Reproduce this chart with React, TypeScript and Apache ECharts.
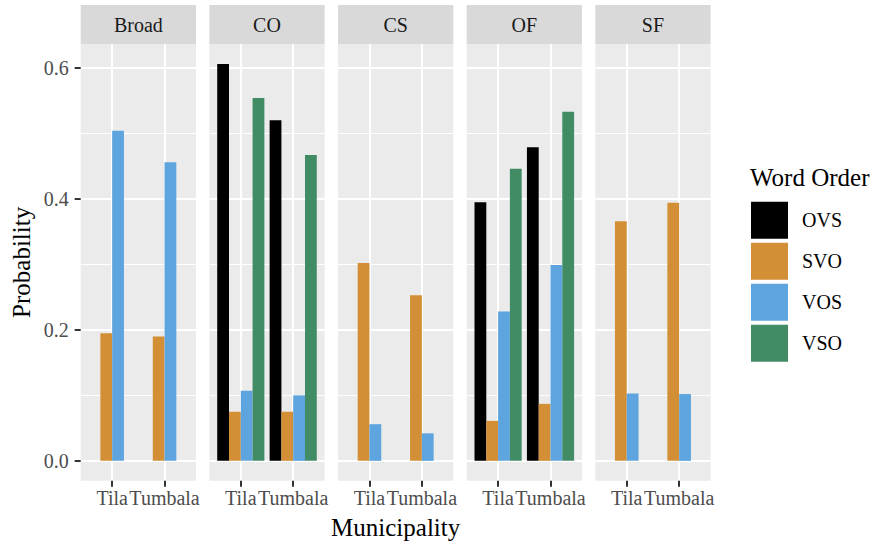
import React, { useEffect, useRef } from 'react';
import * as echarts from 'echarts';

// ---- data ----
const facets = ['Broad', 'CO', 'CS', 'OF', 'SF'];
const municipalities = ['Tila', 'Tumbala'];
const wordOrders = ['OVS', 'SVO', 'VOS', 'VSO'];
const orderColors = ['#000000', '#D38F35', '#5EA4DE', '#418B65'];
const yTickValues = [0, 0.2, 0.4, 0.6];

// per facet: [Tila, Tumbala]; null = word order absent in that facet
const ovsValues = [null, [0.606, 0.52], null, [0.395, 0.479], null];
const svoValues = [[0.195, 0.19], [0.075, 0.075], [0.302, 0.253], [0.061, 0.087], [0.366, 0.394]];
const vosValues = [[0.504, 0.456], [0.107, 0.1], [0.056, 0.042], [0.228, 0.299], [0.103, 0.102]];
const vsoValues = [null, [0.554, 0.467], null, [0.446, 0.533], null];

const seriesValues = [ovsValues, svoValues, vosValues, vsoValues];

// ---- layout ----
const FONT = 'Liberation Serif';
const firstPanelLeft = 80.7;
const panelStep = 128.65;
const panelW = 115.3;
const panelTop = 44.1;
const panelH = 436.6;
const stripTop = 4.9;
const stripH = 39.2;
const yMin = -0.0303;
const yMax = 0.6363;
const xLo = 0.4;
const xHi = 2.6;

export default function App() {
  const ref = useRef<HTMLDivElement>(null);
  useEffect(() => {
    document.body.style.margin = '0';
    const chart = echarts.init(ref.current!, null, { renderer: 'svg' });
    const grids: any[] = [];
    const xAxes: any[] = [];
    const yAxes: any[] = [];
    const series: any[] = [];
    const graphics: any[] = [];
    const unit = panelW / (xHi - xLo);
    const lineTop = panelTop + ((yMax - 0.6) / (yMax - yMin)) * panelH;
    const lineH = (0.6 / (yMax - yMin)) * panelH;
    const barWidth = (0.9 / 4) * unit;

    facets.forEach((facet, i) => {
      const L = firstPanelLeft + i * panelStep;
      // 0: background
      grids.push({ left: L, top: panelTop, width: panelW, height: panelH, show: true, backgroundColor: '#EBEBEB', borderWidth: 0 });
      xAxes.push({ type: 'value', gridIndex: 4 * i, show: false });
      yAxes.push({ type: 'value', gridIndex: 4 * i, show: false });
      // 1: horizontal grid lines + y axis
      grids.push({ left: L, top: lineTop, width: panelW, height: lineH, show: false });
      xAxes.push({ type: 'value', gridIndex: 4 * i + 1, show: false });
      yAxes.push({
        type: 'value', gridIndex: 4 * i + 1, min: 0, max: 0.6, interval: 0.2,
        axisLine: { show: false },
        axisTick: { show: i === 0, length: 6, lineStyle: { color: '#333333', width: 2 } },
        axisLabel: {
          show: i === 0, fontFamily: FONT, fontSize: 20, color: '#4D4D4D', margin: 12,
          formatter: (v: number) => (yTickValues.some((t) => Math.abs(t - v) < 1e-9) ? v.toFixed(1) : ''),
        },
        splitLine: { show: true, lineStyle: { color: '#FFFFFF', width: 2 } },
        minorTick: { show: false, splitNumber: 2 },
        minorSplitLine: { show: true, lineStyle: { color: '#FFFFFF', width: 1 } },
      });
      // 2: x axis at category positions
      grids.push({ left: L + (1 - xLo) * unit, top: panelTop, width: unit, height: panelH, show: false });
      xAxes.push({
        type: 'category', gridIndex: 4 * i + 2, data: municipalities, boundaryGap: false,
        axisLine: { show: false },
        axisTick: { show: true, length: 6, lineStyle: { color: '#333333', width: 2 } },
        axisLabel: { interval: 0, fontFamily: FONT, fontSize: 20, color: '#4D4D4D', margin: 7 },
        splitLine: { show: true, lineStyle: { color: '#FFFFFF', width: 2 } },
      });
      yAxes.push({ type: 'value', gridIndex: 4 * i + 2, show: false });
      // 3: bars
      grids.push({ left: L + (0.5 - xLo) * unit, top: panelTop, width: 2 * unit, height: panelH, show: false });
      xAxes.push({ type: 'category', gridIndex: 4 * i + 3, data: municipalities, show: false });
      yAxes.push({ type: 'value', gridIndex: 4 * i + 3, min: yMin, max: yMax, show: false });
      wordOrders.forEach((wo, k) => {
        const vals = seriesValues[k][i];
        if (!vals) return;
        series.push({
          type: 'bar', name: wo, xAxisIndex: 4 * i + 3, yAxisIndex: 4 * i + 3,
          data: vals, barWidth, barGap: '0%', itemStyle: { color: orderColors[k] },
        });
      });
      // strip
      graphics.push({
        type: 'rect', shape: { x: L, y: stripTop, width: panelW, height: stripH },
        style: { fill: '#D9D9D9' }, silent: true,
      });
      graphics.push({
        type: 'text', x: L + panelW / 2, y: stripTop + stripH / 2,
        style: { text: facet, font: `20px "${FONT}"`, fill: '#1A1A1A', align: 'center', verticalAlign: 'middle' },
        silent: true,
      });
    });

    const panelsCenter = firstPanelLeft + (4 * panelStep + panelW) / 2;
    graphics.push({
      type: 'text', x: panelsCenter, y: 527,
      style: { text: 'Municipality', font: `25px "${FONT}"`, fill: '#000000', align: 'center', verticalAlign: 'middle' },
    });
    graphics.push({
      type: 'text', x: 21, y: panelTop + panelH / 2, rotation: Math.PI / 2,
      style: { text: 'Probability', font: `25px "${FONT}"`, fill: '#000000', align: 'center', verticalAlign: 'middle' },
    });
    graphics.push({
      type: 'text', x: 750, y: 177,
      style: { text: 'Word Order', font: `25px "${FONT}"`, fill: '#000000', align: 'left', verticalAlign: 'middle' },
    });

    chart.setOption({
      animation: false,
      backgroundColor: '#FFFFFF',
      grid: grids,
      xAxis: xAxes,
      yAxis: yAxes,
      series,
      legend: {
        data: wordOrders, orient: 'vertical', left: 751, top: 201.7, padding: 0,
        itemWidth: 37, itemHeight: 37, itemGap: 4, icon: 'rect',
        textStyle: { fontFamily: FONT, fontSize: 20, color: '#000000', padding: [0, 0, 0, 9] },
        selectedMode: false,
      },
      graphic: graphics,
    });
    return () => chart.dispose();
  }, []);
  return <div ref={ref} style={{ width: 878, height: 545 }} />;
}
